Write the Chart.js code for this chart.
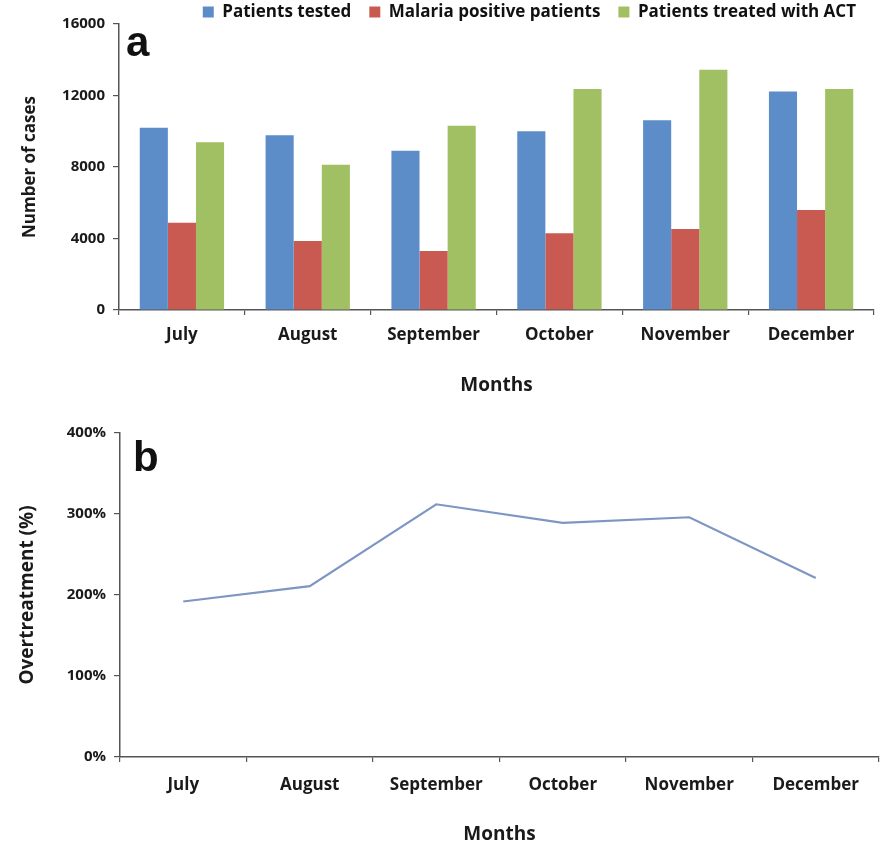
<!DOCTYPE html>
<html>
<head>
<meta charset="utf-8">
<script src="https://cdn.jsdelivr.net/npm/chart.js@4.4.0/dist/chart.umd.min.js"></script>
<style>
html,body{margin:0;padding:0;background:#fff;}
#wrap{position:relative;width:888px;height:848px;overflow:hidden;}
.box{position:absolute;left:0;width:888px;}
#topBox{top:0;height:410px;}
#botBox{top:410px;height:438px;}
.tag{position:absolute;font:bold 42px "Liberation Sans",Arial,sans-serif;line-height:42px;color:#111;}
</style>
</head>
<body>
<div id="wrap">
  <div class="box" id="topBox"><canvas id="casesChart"></canvas></div>
  <div class="box" id="botBox"><canvas id="overChart"></canvas></div>
  <div class="tag" style="left:126px;top:21px">a</div>
  <div class="tag" style="left:133px;top:436px">b</div>
</div>
<script>
// values
const months = ['July','August','September','October','November','December'];
const tested = [10200, 9770, 8910, 10000, 10610, 12230];
const positive = [4880, 3860, 3300, 4290, 4530, 5590];
const treatedACT = [9380, 8130, 10310, 12360, 13440, 12360];
const overtreatment = [192, 211, 312, 289, 296, 221];
const caseTicks = [0, 4000, 8000, 12000, 16000];
const pctTicks = [0, 100, 200, 300, 400];

Chart.defaults.font.family = '"Open Sans", "DejaVu Sans", sans-serif';
Chart.defaults.font.weight = 'bold';
Chart.defaults.color = '#1a1a1a';

const axisCol = '#555';
const tickMarks = (len)=>({drawOnChartArea:false, drawTicks:true, tickLength:len, color:axisCol, lineWidth:1.2});
const fixTicks = (arr)=>(s)=>{ s.ticks = arr.map(v=>({value:v})); };

function initCases(){
  const ctx = document.getElementById('casesChart');
  new Chart(ctx, {
    type:'bar',
    data:{labels:months, datasets:[
      {label:'Patients tested', data:tested, backgroundColor:'#5d8dc9'},
      {label:'Malaria positive patients', data:positive, backgroundColor:'#c95a51'},
      {label:'Patients treated with ACT', data:treatedACT, backgroundColor:'#a1bf63'}
    ]},
    options:{
      responsive:true, maintainAspectRatio:false, animation:false, devicePixelRatio:1,
      layout:{padding:{top:-14.5, right:14, left:0, bottom:0}},
      datasets:{bar:{categoryPercentage:0.67, barPercentage:1.0}},
      plugins:{
        tooltip:{enabled:false},
        legend:{position:'top', align:'end', maxHeight:38.5,
          labels:{boxWidth:11, boxHeight:11, padding:18, color:'#111', font:{size:17, weight:'bold'}}}
      },
      scales:{
        x:{
          grid:tickMarks(5), border:{color:axisCol, width:1.5},
          ticks:{padding:10, font:{size:17, weight:'bold'}},
          title:{display:true, text:'Months', font:{size:19, weight:'bold'}, padding:{top:0, bottom:13}},
          afterFit:(s)=>{ s.height = 100; }
        },
        y:{
          min:0, max:16000,
          afterBuildTicks:fixTicks(caseTicks),
          grid:tickMarks(6), border:{color:axisCol, width:1.5},
          ticks:{padding:8, font:{size:15, weight:'bold'}, callback:(v)=>String(v)},
          title:{display:true, text:'Number of cases', font:{size:17, weight:'bold'}, padding:{top:20}},
          afterFit:(s)=>{ s.width = 119; }
        }
      }
    }
  });
}

function initOver(){
  const ctx = document.getElementById('overChart');
  new Chart(ctx, {
    type:'line',
    data:{labels:months, datasets:[
      {label:'Overtreatment', data:overtreatment, borderColor:'#7d96c4', borderWidth:2.2, pointRadius:0, tension:0, fill:false}
    ]},
    options:{
      responsive:true, maintainAspectRatio:false, animation:false, devicePixelRatio:1,
      layout:{padding:{top:23, right:9, left:0, bottom:0}},
      plugins:{legend:{display:false}, tooltip:{enabled:false}},
      scales:{
        x:{
          offset:true,
          grid:Object.assign(tickMarks(5), {offset:true}), border:{color:axisCol, width:1.5},
          ticks:{padding:13, font:{size:17, weight:'bold'}},
          title:{display:true, text:'Months', font:{size:19, weight:'bold'}, padding:{top:0, bottom:2}},
          afterFit:(s)=>{ s.height = 91; }
        },
        y:{
          min:0, max:400,
          afterBuildTicks:fixTicks(pctTicks),
          grid:tickMarks(6), border:{color:axisCol, width:1.5},
          ticks:{padding:8, font:{size:15, weight:'bold'}, callback:(v)=>v+'%'},
          title:{display:true, text:'Overtreatment (%)', font:{size:19, weight:'bold'}, padding:{top:16}},
          afterFit:(s)=>{ s.width = 120; }
        }
      }
    }
  });
}

window.addEventListener('DOMContentLoaded', ()=>{ initCases(); initOver(); });
</script>
</body>
</html>
